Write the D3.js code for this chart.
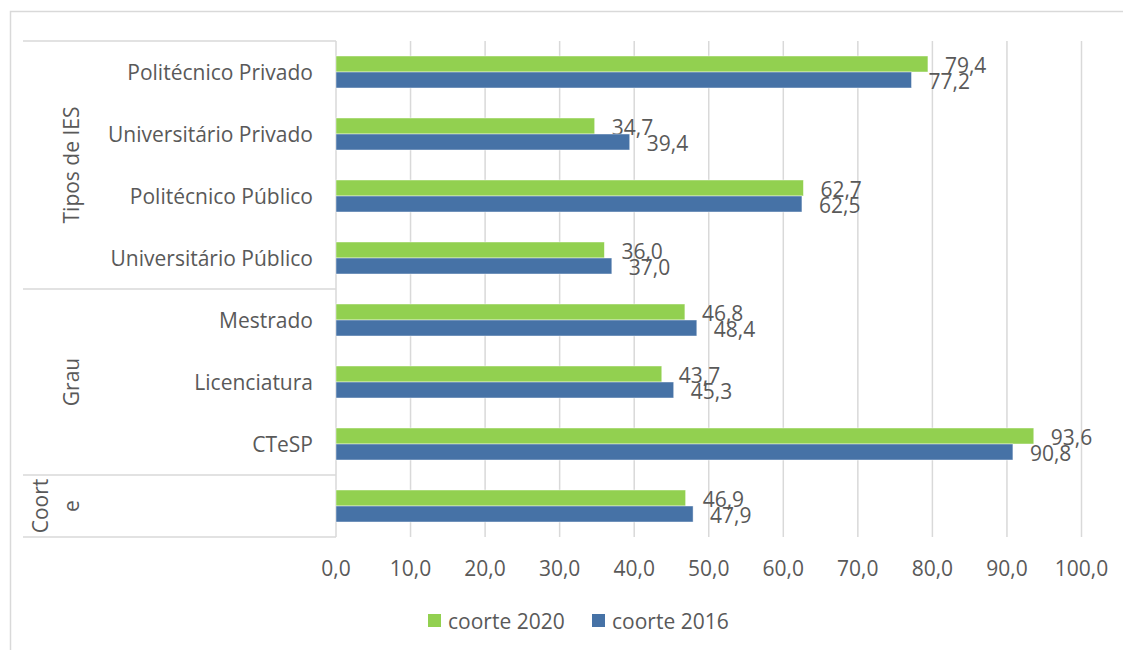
<!DOCTYPE html>
<html lang="pt">
<head>
<meta charset="UTF-8">
<title>Coortes</title>
<script src="https://cdn.jsdelivr.net/npm/d3@7"></script>
<style>
  body { margin: 0; background: #fff; }
  text { font-family: "Open Sans", sans-serif; fill: #595959; }
</style>
</head>
<body>
<script>
// data, top to bottom
var categories = ["Politécnico Privado", "Universitário Privado", "Politécnico Público", "Universitário Público",
                  "Mestrado", "Licenciatura", "CTeSP", ""];
var groupNames = ["Tipos de IES", "Grau", "Coorte"];
var groupSizes = [4, 3, 1];
var coorte2020 = [79.4, 34.7, 62.7, 36.0, 46.8, 43.7, 93.6, 46.9];
var coorte2016 = [77.2, 39.4, 62.5, 37.0, 48.4, 45.3, 90.8, 47.9];
var seriesNames = ["coorte 2020", "coorte 2016"];
var tickValues = [0, 10, 20, 30, 40, 50, 60, 70, 80, 90, 100];

var width = 1123, height = 650;
var green = "#92d050", blue = "#4672a6", grid = "#d9d9d9";
var plotLeft = 336, plotRight = 1081.5, plotTop = 41, plotBottom = 537;
var fs = 21;

var svg = d3.select("body").append("svg").attr("width", width).attr("height", height);

// outer chart border (runs off the picture on right and bottom)
svg.append("rect").attr("x", 10.5).attr("y", 11.5).attr("width", 1200).attr("height", 700)
  .attr("fill", "none").attr("stroke", grid).attr("stroke-width", 1.5);

var x = d3.scaleLinear().domain([0, 100]).range([plotLeft, plotRight]);
var y = d3.scaleBand().domain(d3.range(categories.length)).range([plotTop, plotBottom])
  .paddingInner(30 / 62).paddingOuter(15 / 62);
var ySub = d3.scaleBand().domain([0, 1]).range([0, y.bandwidth()]);
var step = y.step();

// gridlines
svg.append("g").selectAll("line").data(tickValues.slice(1)).enter().append("line")
  .attr("x1", function(d) { return x(d); }).attr("x2", function(d) { return x(d); })
  .attr("y1", plotTop).attr("y2", plotBottom)
  .attr("stroke", grid).attr("stroke-width", 1.5);

// tick labels
var fmt = function(v) { return d3.format(".1f")(v).replace(".", ","); };
svg.append("g").selectAll("text").data(tickValues).enter().append("text")
  .attr("x", function(d) { return x(d); }).attr("y", 568)
  .attr("text-anchor", "middle").attr("dominant-baseline", "central")
  .attr("font-size", fs).text(fmt);

// multi-level category axis
var bounds = [0];
groupSizes.forEach(function(s) { bounds.push(bounds[bounds.length - 1] + s); });
var bandEdge = function(i) { return plotTop + i * step; };
svg.append("line").attr("x1", plotLeft).attr("x2", plotLeft).attr("y1", plotTop).attr("y2", plotBottom)
  .attr("stroke", grid).attr("stroke-width", 1.5);
svg.append("g").selectAll("line").data(bounds).enter().append("line")
  .attr("x1", 23).attr("x2", plotLeft)
  .attr("y1", function(d) { return bandEdge(d); }).attr("y2", function(d) { return bandEdge(d); })
  .attr("stroke", grid).attr("stroke-width", 1.5);

svg.append("g").selectAll("text").data(categories).enter().append("text")
  .attr("x", 313).attr("y", function(d, i) { return y(i) + y.bandwidth() / 2; })
  .attr("text-anchor", "end").attr("dominant-baseline", "central")
  .attr("font-size", fs).text(function(d) { return d; });

groupNames.forEach(function(g, gi) {
  var cy = (bandEdge(bounds[gi]) + bandEdge(bounds[gi + 1])) / 2;
  var lines = g === "Coorte" ? ["Coort", "e"] : [g];
  var xs = lines.length > 1 ? [40, 71] : [71];
  lines.forEach(function(t, li) {
    svg.append("text")
      .attr("transform", "translate(" + xs[li] + "," + cy + ") rotate(-90)")
      .attr("text-anchor", "middle").attr("dominant-baseline", "central")
      .attr("font-size", fs).text(t);
  });
});

// bars
var series = [coorte2020, coorte2016];
var colors = [green, blue];
series.forEach(function(vals, si) {
  var g = svg.append("g");
  g.selectAll("rect").data(vals).enter().append("rect")
    .attr("x", x(0)).attr("y", function(d, i) { return y(i) + ySub(si); })
    .attr("width", function(d) { return x(d) - x(0); }).attr("height", ySub.bandwidth())
    .attr("fill", colors[si]).attr("stroke", "#fff").attr("stroke-opacity", 0.6).attr("stroke-width", 0.75);
  g.selectAll("text").data(vals).enter().append("text")
    .attr("x", function(d) { return x(d) + 17; })
    .attr("y", function(d, i) { return y(i) + ySub(si) + ySub.bandwidth() / 2 + 0.5; })
    .attr("dominant-baseline", "central").attr("font-size", fs).text(fmt);
});

// legend
var legend = svg.append("g");
var legendX = [428, 592];
seriesNames.forEach(function(n, i) {
  legend.append("rect").attr("x", legendX[i]).attr("y", 614).attr("width", 13).attr("height", 13).attr("fill", colors[i]);
  legend.append("text").attr("x", legendX[i] + 20).attr("y", 620.5)
    .attr("dominant-baseline", "central").attr("font-size", fs).text(n);
});
</script>
</body>
</html>
